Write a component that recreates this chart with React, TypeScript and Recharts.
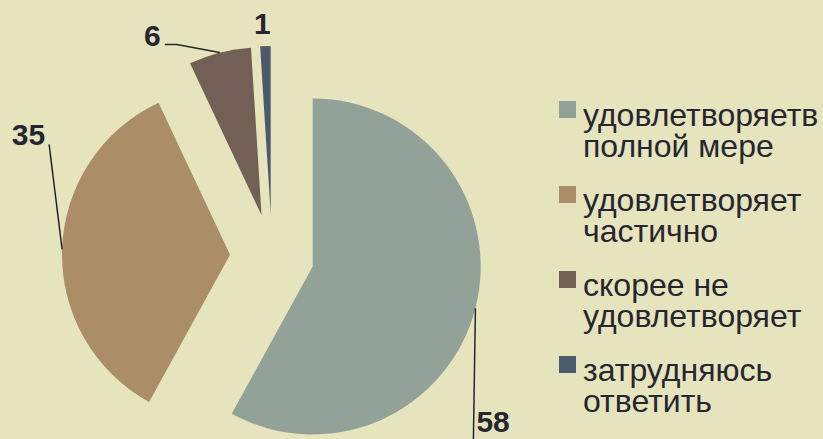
import React from 'react';
import { PieChart, Pie, Cell, Legend, Sector } from 'recharts';

const categories = [
  'удовлетворяетв полной мере',
  'удовлетворяет частично',
  'скорее не удовлетворяет',
  'затрудняюсь ответить',
];
const values = [58, 35, 6, 1];
const colors = ['#93A298', '#AB8D68', '#725F55', '#4C5A6E'];

const data = categories.map((name, i) => ({ name, value: values[i] }));

const BG = '#E5E4BC';
const TEXT = '#262630';
const FONT = '"Liberation Sans", Arial, sans-serif';
const RAD = Math.PI / 180;
const EXPLODE = 42;

// leader-line / label placement relative to each slice's arc midpoint
const labelLayout = [
  { line: [[0, 0], [-2, 131]], tx: 1, ty: 124, anchor: 'start' },
  { line: [[0, 0], [-13, -105]], tx: -17, ty: -104, anchor: 'end' },
  { line: [[0, 0], [-43, -8], [-55, -8]], tx: -59, ty: -7, anchor: 'end' },
  { line: null, tx: -3, ty: -12, anchor: 'middle' },
];

const explodedCenter = (cx: number, cy: number, mid: number) => ({
  x: cx + EXPLODE * Math.cos(-mid * RAD),
  y: cy + EXPLODE * Math.sin(-mid * RAD),
});

const ExplodedSector = (props: any) => {
  const c = explodedCenter(props.cx, props.cy, props.midAngle);
  return <Sector {...props} cx={c.x} cy={c.y} stroke="none" />;
};

const renderLabel = (props: any) => {
  const { cx, cy, midAngle, outerRadius, index, value } = props;
  const c = explodedCenter(cx, cy, midAngle);
  const ax = c.x + outerRadius * Math.cos(-midAngle * RAD);
  const ay = c.y + outerRadius * Math.sin(-midAngle * RAD);
  const lay = labelLayout[index];
  return (
    <g key={`lbl-${index}`}>
      {lay.line && (
        <polyline
          points={lay.line.map(([dx, dy]) => `${ax + dx},${ay + dy}`).join(' ')}
          fill="none"
          stroke={TEXT}
          strokeWidth={1.5}
        />
      )}
      <text
        x={ax + lay.tx}
        y={ay + lay.ty}
        textAnchor={lay.anchor as any}
        fill={TEXT}
        fontFamily={FONT}
        fontWeight="bold"
        fontSize={30}
      >
        {value}
      </text>
    </g>
  );
};

const renderLegend = (props: any) => {
  const payload = [...(props.payload || [])].sort(
    (a: any, b: any) => categories.indexOf(a.value) - categories.indexOf(b.value)
  );
  return (
    <div style={{ fontFamily: FONT, fontSize: 32, lineHeight: '31px', color: TEXT }}>
      {payload.map((e: any, i: number) => (
        <div key={i} style={{ display: 'flex', alignItems: 'flex-start', marginBottom: 23 }}>
          <div
            style={{
              width: 17,
              height: 17,
              background: e.color,
              marginTop: 1,
              marginRight: 7,
              flex: 'none',
            }}
          />
          <div style={{ width: 240 }}>{e.value}</div>
        </div>
      ))}
    </div>
  );
};

export default function App() {
  return (
    <div
      style={{
        position: 'fixed',
        left: 0,
        top: 0,
        width: 823,
        height: 439,
        background: BG,
        overflow: 'hidden',
      }}
    >
      <PieChart width={823} height={439} margin={{ top: 0, right: 0, bottom: 0, left: 0 }}>
        <Pie
          data={data}
          dataKey="value"
          nameKey="name"
          cx={272}
          cy={256}
          outerRadius={168}
          startAngle={90}
          endAngle={-270}
          isAnimationActive={false}
          labelLine={false}
          label={renderLabel}
          shape={ExplodedSector}
          stroke="none"
        >
          {data.map((d, i) => (
            <Cell key={d.name} fill={colors[i]} />
          ))}
        </Pie>
        <Legend
          layout="vertical"
          align="right"
          verticalAlign="top"
          content={renderLegend}
          wrapperStyle={{ left: 559, top: 100, width: 264, right: 'auto' }}
        />
      </PieChart>
    </div>
  );
}
